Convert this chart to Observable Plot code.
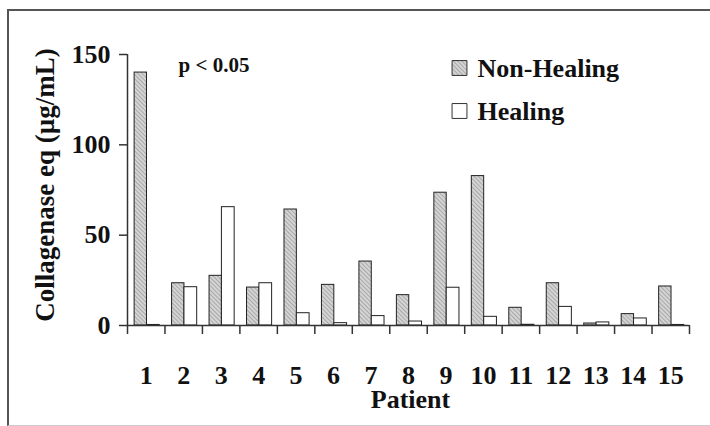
<!DOCTYPE html>
<html>
<head>
<meta charset="utf-8">
<script src="https://cdn.jsdelivr.net/npm/d3@7"></script>
<script src="https://cdn.jsdelivr.net/npm/@observablehq/plot@0.6"></script>
<style>
  html, body { margin: 0; padding: 0; background: #fff; overflow: hidden; }
  #wrap { position: relative; width: 710px; height: 426px; }
  #border { position: absolute; left: 7px; top: 9px; width: 720px; height: 414px;
            border-left: 2px solid #555; border-top: 2px solid #555; border-bottom: 1px solid #ccc; pointer-events: none; }
</style>
</head>
<body>
<div id="wrap"><div id="border"></div></div>
<script>
const patients   = [1, 2, 3, 4, 5, 6, 7, 8, 9, 10, 11, 12, 13, 14, 15];
const nonHealing = [140, 23.4, 27.5, 21, 64.2, 22.5, 35.4, 16.8, 73.5, 82.7, 9.8, 23.4, 1.1, 6.3, 21.6];
const healing    = [0.3, 21.2, 65.5, 23.4, 6.8, 1.3, 5.2, 2.2, 20.9, 4.8, 0.4, 10.3, 1.7, 3.9, 0.3];
const yTicks     = [0, 50, 100, 150];
const seriesNames = ["Non-Healing", "Healing"];
const yLabel = "Collagenase eq (µg/mL)";
const xLabel = "Patient";
const pNote = "p < 0.05";

const nhData = patients.map((p, i) => ({patient: p, value: nonHealing[i]}));
const hData  = patients.map((p, i) => ({patient: p, value: healing[i]}));
const boundaries = [...patients.map(p => p - 0.5), patients[patients.length - 1] + 0.5];

const font = "'Liberation Serif', 'Times New Roman', serif";

const chart = Plot.plot({
  width: 710,
  height: 426,
  marginLeft: 127,
  marginRight: 21,
  marginTop: 54,
  marginBottom: 101,
  style: {fontFamily: font, fontSize: "26px", fontWeight: "bold", color: "#111", background: "transparent"},
  x: {type: "linear", domain: [boundaries[0], boundaries[boundaries.length - 1]]},
  y: {domain: [0, 150]},
  marks: [
    Plot.rectY(nhData, {x1: d => d.patient - 0.31, x2: d => d.patient + 0.02, y: "value",
      fill: "url(#hatch)", stroke: "#222", strokeWidth: 1}),
    Plot.rectY(hData, {x1: d => d.patient + 0.02, x2: d => d.patient + 0.36, y: "value",
      fill: "#fff", stroke: "#222", strokeWidth: 1}),
    Plot.ruleY([0], {stroke: "#333", strokeWidth: 1.5}),
    Plot.ruleX([boundaries[0]], {stroke: "#333", strokeWidth: 1.5}),
    Plot.axisY({ticks: yTicks, tickSize: 8, tickPadding: 9, label: null, stroke: "#333", strokeWidth: 1.5, fontSize: 26}),
    Plot.axisX({ticks: boundaries, tickFormat: () => "", tickSize: 9, label: null, stroke: "#333", strokeWidth: 1.5}),
    Plot.axisX({ticks: patients, tickSize: 0, tickPadding: 40, label: null, fontSize: 26}),
    Plot.text([xLabel], {frameAnchor: "bottom", dx: 2, dy: 74, textAnchor: "middle", lineAnchor: "middle", fontSize: 26}),
    Plot.text([yLabel], {frameAnchor: "left", rotate: -90, dx: -82, dy: -5, textAnchor: "middle", lineAnchor: "middle", fontSize: 27}),
    Plot.text([pNote], {frameAnchor: "top-left", dx: 51, dy: 11, textAnchor: "start", lineAnchor: "middle", fontSize: 21}),
    Plot.dot([seriesNames[0]], {frameAnchor: "top-left", dx: 332, dy: 13.5, symbol: "square", r: 8.4, fill: "url(#hatch)", stroke: "#333", strokeWidth: 1}),
    Plot.dot([seriesNames[1]], {frameAnchor: "top-left", dx: 332, dy: 56.5, symbol: "square", r: 8.4, fill: "#fff", stroke: "#333", strokeWidth: 1}),
    Plot.text([seriesNames[0]], {frameAnchor: "top-left", dx: 350, dy: 14.5, textAnchor: "start", lineAnchor: "middle", fontSize: 26}),
    Plot.text([seriesNames[1]], {frameAnchor: "top-left", dx: 350, dy: 57.5, textAnchor: "start", lineAnchor: "middle", fontSize: 26})
  ]
});

// hatch pattern for the Non-Healing bars
const ns = "http://www.w3.org/2000/svg";
const defs = document.createElementNS(ns, "defs");
const pat = document.createElementNS(ns, "pattern");
pat.setAttribute("id", "hatch");
pat.setAttribute("patternUnits", "userSpaceOnUse");
pat.setAttribute("width", "3");
pat.setAttribute("height", "3");
pat.setAttribute("patternTransform", "rotate(-45)");
const bg = document.createElementNS(ns, "rect");
bg.setAttribute("width", "3"); bg.setAttribute("height", "3"); bg.setAttribute("fill", "#d4d4d4");
const ln = document.createElementNS(ns, "line");
ln.setAttribute("x1", "0"); ln.setAttribute("y1", "0"); ln.setAttribute("x2", "0"); ln.setAttribute("y2", "3");
ln.setAttribute("stroke", "#8c8c8c"); ln.setAttribute("stroke-width", "1.2");
pat.appendChild(bg); pat.appendChild(ln); defs.appendChild(pat);
chart.insertBefore(defs, chart.firstChild);

document.getElementById("wrap").appendChild(chart);
chart.style.position = "absolute";
chart.style.left = "0";
chart.style.top = "0";
</script>
</body>
</html>
